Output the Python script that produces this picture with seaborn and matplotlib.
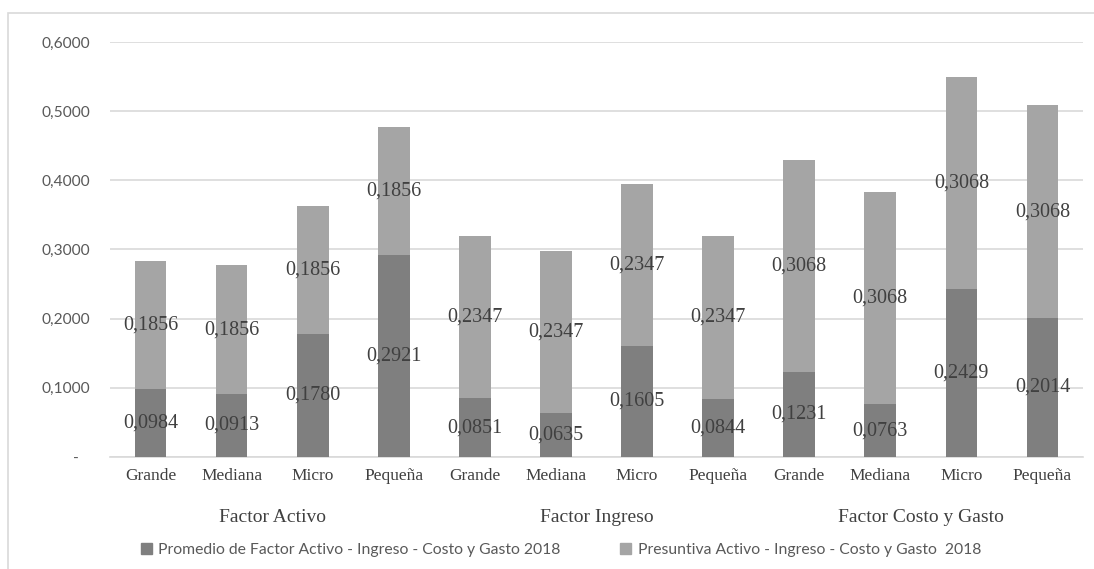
import matplotlib
matplotlib.use("Agg")
import matplotlib.pyplot as plt
from matplotlib.patches import Rectangle
from matplotlib.ticker import FixedLocator, FuncFormatter
import seaborn as sns
import pandas as pd

# Data
groups = ["Factor Activo", "Factor Ingreso", "Factor Costo y Gasto"]
sizes = ["Grande", "Mediana", "Micro", "Pequeña"]
promedio = [0.0984, 0.0913, 0.1780, 0.2921,
            0.0851, 0.0635, 0.1605, 0.0844,
            0.1231, 0.0763, 0.2429, 0.2014]
presuntiva = [0.1856, 0.1856, 0.1856, 0.1856,
              0.2347, 0.2347, 0.2347, 0.2347,
              0.3068, 0.3068, 0.3068, 0.3068]
legend_labels = ["Promedio de Factor Activo - Ingreso - Costo y Gasto 2018",
                 "Presuntiva Activo - Ingreso - Costo y Gasto  2018"]
yticks = [0.0, 0.1, 0.2, 0.3, 0.4, 0.5, 0.6]

DARK = "#7f7f7f"
LIGHT = "#a5a5a5"
GRID = "#d9d9d9"
TXT = "#404040"
TICK = "#595959"
SERIF = "Liberation Serif"
SANS = "Lato"

rows = []
for gi, g in enumerate(groups):
    for si, s in enumerate(sizes):
        i = gi * len(sizes) + si
        rows.append({"key": f"{g}|{s}", "group": g, "size": s,
                     "promedio": promedio[i], "presuntiva": presuntiva[i],
                     "total": promedio[i] + presuntiva[i]})
df = pd.DataFrame(rows)
order = list(df["key"])

sns.set_theme(style="white")
plt.rcParams["font.family"] = [SANS, "DejaVu Sans"]

fig = plt.figure(figsize=(10.94, 5.69), dpi=100)
ax = fig.add_axes([110 / 1094, 1 - 457 / 569, (1083 - 110) / 1094, (457 - 42) / 569])

# chart border
fig.patches.append(Rectangle((8 / 1094, -0.02), 1.0, 1 - 13 / 569 + 0.02,
                             transform=fig.transFigure, fill=False,
                             edgecolor=GRID, linewidth=1.2, zorder=0))

# stacked bars: total (light) underneath, dark base on top
sns.barplot(data=df, x="key", y="total", order=order, color=LIGHT,
            saturation=1, width=0.39, ax=ax, zorder=2, linewidth=0)
sns.barplot(data=df, x="key", y="promedio", order=order, color=DARK,
            saturation=1, width=0.39, ax=ax, zorder=3, linewidth=0)

ax.set_ylim(0, 0.6)
ax.set_xlim(-0.5, len(order) - 0.5)
ax.yaxis.set_major_locator(FixedLocator(yticks))
ax.yaxis.set_major_formatter(FuncFormatter(
    lambda v, p: "-   " if abs(v) < 1e-9 else f"{v:.4f}".replace(".", ",")))
ax.grid(axis="y", color=GRID, linewidth=1.2, zorder=0)
ax.set_axisbelow(True)
for side in ["top", "right", "left"]:
    ax.spines[side].set_visible(False)
ax.spines["bottom"].set_color(GRID)
ax.spines["bottom"].set_linewidth(1.2)
ax.tick_params(axis="y", length=0, pad=14, labelsize=11.2, labelcolor=TICK)
ax.tick_params(axis="x", length=0, pad=8)
ax.set_xticks(range(len(order)))
ax.set_xticklabels(list(df["size"]), fontfamily=SERIF, fontsize=12.5, color=TXT)
ax.set_xlabel("")
ax.set_ylabel("")

# value labels centered in each segment
for i, r in df.iterrows():
    ax.text(i, r["promedio"] / 2, f"{r['promedio']:.4f}".replace(".", ","),
            ha="center", va="center", fontfamily=SERIF, fontsize=14.5,
            color=TXT, zorder=5)
    ax.text(i, r["promedio"] + r["presuntiva"] / 2,
            f"{r['presuntiva']:.4f}".replace(".", ","),
            ha="center", va="center", fontfamily=SERIF, fontsize=14.5,
            color=TXT, zorder=5)

# group labels under the categories
n = len(sizes)
for gi, g in enumerate(groups):
    cx = gi * n + (n - 1) / 2
    ax.text(cx, -0.087, g, transform=ax.transData, ha="center", va="center",
            fontfamily=SERIF, fontsize=14, color=TXT, clip_on=False)

# legend
handles = [Rectangle((0, 0), 1, 1, color=DARK), Rectangle((0, 0), 1, 1, color=LIGHT)]
fig.legend(handles, legend_labels, loc="center", bbox_to_anchor=(561 / 1094, 1 - 550 / 569),
           ncol=2, frameon=False, fontsize=11.3, labelcolor=TICK,
           handlelength=0.7, handleheight=0.7, handletextpad=0.4, columnspacing=3.8)

fig.savefig("out.png", dpi=100, facecolor="white")
